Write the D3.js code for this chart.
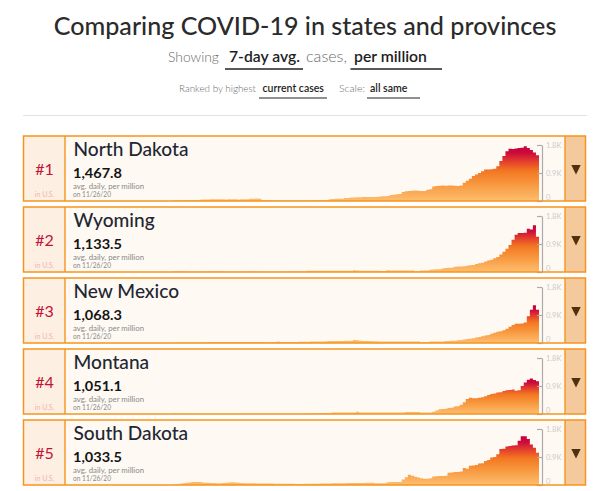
<!DOCTYPE html>
<html>
<head>
<meta charset="utf-8">
<script src="https://cdn.jsdelivr.net/npm/d3@7"></script>
<style>
  body { margin: 0; background: #fff; }
  svg { display: block; font-family: Lato, "Noto Sans", sans-serif; }
</style>
</head>
<body>
<svg id="chart" width="616" height="491"></svg>
<script>
// Top five by current 7-day avg. cases per million (11/26/20)
const states = ["North Dakota", "Wyoming", "New Mexico", "Montana", "South Dakota"];
const ranks = ["#1", "#2", "#3", "#4", "#5"];
const currentValues = [1467.8, 1133.5, 1068.3, 1051.1, 1033.5];
const asOf = "on 11/26/20";
const yTicks = [0, 900, 1800];

// one bar per two days, last bar on 2020-11-26
const lastDay = "2020-11-26";
const stepDays = 2;

const northDakota = [20,20,22,22,25,25,25,28,30,
  45,50,52,55,55,58,55,55,52,55,58,55,52,55,55,58,
  70,75,78,70,
  35,30,28,25,22,20,20,18,18,20,20,18,18,20,20,22,22,25,25,28,30,35,
  60,65,70,72,70,
  95,100,110,115,120,120,125,125,128,130,130,135,
  150,155,160, 190,200,215,225,
  290,310,320,330,335,330,325,320, 360,375,
  470,480,490,495,490,500,495,490,485,500,
  590,650,715,800,850,900,960,1015,1015,1020,1040,1120,1285,1445,1600,
  1680,1670,1690,1700,1710,1760,1700,1640,1560,1467.8];

const wyoming = [15,18,18,15,15, 5,5,5,5,5, 15,15,18,18,15,15,15, 5,5,5,5,5,8,
  15,15,15,15, 5,5,15, 5,5,5,5,5,8, 15,15,15,15,15,15,15,15,
  40,40,40,40,40,40,40, 38,38,38,38,38,38,38,40, 55,45,
  40,40,40,40,40,40,38, 30,30, 55,50,45,45,45,45,45,45,45, 25,30, 50,50,50,
  70,80,85,90, 110,130,135,140, 170,175,180,185, 200,215,225, 260,280,300,
  340,370,390, 440,480,
  560,650,750,870,1040,1200,1250,1250,1260,1390,1370,1500,1133.5];

const newMexico = [5, 15,15,15,15,18,18,18,18,18,18,
  30,32,32,32,32,32,32,32,32,32,32,32,32,32,32,32,32,32,32,
  28,28,30,30, 45, 32,32,32,32,32, 35,38,40,40,40, 50,50,50,50,52,
  60,62,62,65,65,68,70,70,70, 95,90, 70,65,65,65,60,60,
  50,50,50,50,50,50,50,50,50,50,50,50,50,45, 25,25,30,
  45,45,48,50,50, 65,65,70,75, 90,100,110, 130,140,150, 180,190,
  220,240,260, 300,330, 360,380,
  410,460,520,580,620,620,630,660,860,1070,1210,1068.3];

const montana = [15, 8,6,5,4,3,3,2,2,2,2,
  2,2,2,2,2,3,3,3,3,3,4,4,5,5,6,8,10,10,12,12,12,12,12,12,12,12,12,12,12,12,12,12,
  20,20,20,22,22,22,22, 30,32, 50,52,52,52,52,52,52,52, 70,
  52,52,52,52,52,52,52,52,52,52,52,52,52,52,52,
  68,68,68,68,68, 50,50,50,52, 70, 110, 150,160,165, 190,200, 240,250,
  300,380,480,520,510,505,520,540,570,610,640,660,690,700,740,760,770,790,
  750,760,900,1010,1100,1145,1090,1051.1];

const southDakota = [15,25,40,55,70,80, 95,100,95,85,75,
  70,65,62,60,60,65,75,80,85,80,
  70,65,60,58,55,55,52,50,48,48,45,45,42,42,40,
  40,38,38,38,36,36,36,38,38,40,42,42,45,48,50,52,55,55,58,60,
  60,62,62,65,65,68,68,70,70,72,60,55, 55,60, 90,95,95,100,100,
  180,250,330,300,265,240,220,200,200,220,270,280,290,290,300,
  390,400,420,420,430,550,520,620,630,640,690,700,770,800,880,
  900,990,1160,1165,1240,1250,1270,1280,1420,1570,1570,1480,1300,1200,1033.5];

const seriesList = [northDakota, wyoming, newMexico, montana, southDakota];

const svg = d3.select("#chart");
const orange = "#f7941d";

function fitWidth(sel, target) {
  const w = sel.node().getComputedTextLength();
  const fs = parseFloat(sel.attr("font-size"));
  sel.attr("font-size", fs * target / w);
  return fs * target / w;
}

// ---- header ----
const title = svg.append("text")
  .attr("x", 305).attr("y", 35)
  .attr("text-anchor", "middle")
  .attr("font-size", 25).attr("font-weight", 500)
  .attr("fill", "#2b2b2b")
  .text("Comparing COVID-19 in states and provinces");
fitWidth(title, 503);

function headText(x, y, size, txt, dark) {
  return svg.append("text").attr("x", x).attr("y", y)
    .attr("font-size", size)
    .attr("font-weight", dark ? 600 : 300)
    .attr("fill", dark ? "#1e1e1e" : "#6a6a6a")
    .text(txt);
}
function underline(x1, x2, y, w) {
  svg.append("line").attr("x1", x1).attr("x2", x2).attr("y1", y).attr("y2", y)
    .attr("stroke", "#222").attr("stroke-width", w);
}

fitWidth(headText(168, 62, 14.5, "Showing", false), 51);
fitWidth(headText(229, 62, 14.5, "7-day avg.", true), 71);
fitWidth(headText(306, 62, 14.5, "cases,", false), 41);
fitWidth(headText(354, 62, 14.5, "per million", true), 73);
underline(225, 303, 69, 1.5);
underline(350.5, 442, 69, 1.5);

fitWidth(headText(179, 92, 9.5, "Ranked by highest", false), 77);
fitWidth(headText(262.5, 92, 9.5, "current cases", true), 61.5);
fitWidth(headText(339, 92, 9.5, "Scale:", false), 26);
fitWidth(headText(370, 92, 9.5, "all same", true), 37.5);
underline(259, 327, 98, 1);
underline(367, 420, 98, 1);

svg.append("line").attr("x1", 23).attr("x2", 587).attr("y1", 115.5).attr("y2", 115.5)
  .attr("stroke", "#e2e2e2").attr("stroke-width", 1);

// ---- scales shared by every card ("all same") ----
const parseDay = d3.timeParse("%Y-%m-%d");
const endDay = parseDay(lastDay);
const nBars = northDakota.length;
const x = d3.scaleTime()
  .domain([d3.timeDay.offset(endDay, -stepDays * (nBars - 1)), d3.timeDay.offset(endDay, stepDays)])
  .range([173, 539]);
const y = d3.scaleLinear().domain([0, 1800]).range([65, 9]);

const area = d3.area()
  .curve(d3.curveStepAfter)
  .x(d => x(d.date))
  .y0(y(0))
  .y1(d => y(d.value));

const yAxis = d3.axisRight(y)
  .tickValues(yTicks)
  .tickSizeInner(-5)
  .tickSizeOuter(0)
  .tickPadding(4)
  .tickFormat(d => d === 0 ? "0" : (d / 1000).toFixed(1) + "K");

const defs = svg.append("defs");
const gradStops = [[0, "#c6003c"], [0.12, "#cc0a3a"], [0.3, "#e6462b"], [0.45, "#f37722"], [0.7, "#f8993f"], [1, "#fdbe70"]];

let nameSize = 17;

seriesList.forEach((vals, i) => {
  const top = 136 + 71 * i;
  const g = svg.append("g").attr("transform", "translate(0," + top + ")");

  const pts = vals.map((v, j) => ({ date: d3.timeDay.offset(endDay, -stepDays * (vals.length - 1 - j)), value: v }));
  pts.push({ date: d3.timeDay.offset(endDay, stepDays), value: vals[vals.length - 1] });

  const grad = defs.append("linearGradient")
    .attr("id", "grad" + i)
    .attr("gradientUnits", "userSpaceOnUse")
    .attr("x1", 0).attr("x2", 0)
    .attr("y1", y(d3.max(vals))).attr("y2", y(0));
  grad.selectAll("stop").data(gradStops).join("stop")
    .attr("offset", d => d[0]).attr("stop-color", d => d[1]);

  // panels
  g.append("rect").attr("x", 23.5).attr("y", 0).attr("width", 562).attr("height", 65).attr("fill", "#fef9f3");
  g.append("rect").attr("x", 23.5).attr("y", 0).attr("width", 41.5).attr("height", 65).attr("fill", "#fdefe2");
  g.append("rect").attr("x", 565).attr("y", 0).attr("width", 20.5).attr("height", 65).attr("fill", "#f4ca9d");

  // bars
  g.append("path").datum(pts).attr("d", area).attr("fill", "url(#grad" + i + ")");

  // axis
  const ax = g.append("g").attr("transform", "translate(542,0)").call(yAxis);
  ax.select(".domain").attr("stroke", "#ababab").attr("stroke-width", 1.2);
  ax.selectAll(".tick line").attr("stroke", "#ababab").attr("stroke-width", 1.2);
  ax.selectAll(".tick text").attr("fill", "#cbcbcb").attr("font-size", 7.5)
    .attr("font-family", "Lato, sans-serif")
    .attr("y", d => d === 0 ? -4 : 0);

  // separators and border
  g.append("line").attr("x1", 65).attr("x2", 65).attr("y1", 0).attr("y2", 65).attr("stroke", orange).attr("stroke-width", 1.4);
  g.append("line").attr("x1", 565).attr("x2", 565).attr("y1", 0).attr("y2", 65).attr("stroke", orange).attr("stroke-width", 1.4);
  g.append("rect").attr("x", 23.5).attr("y", 0).attr("width", 562).attr("height", 65)
    .attr("fill", "none").attr("stroke", orange).attr("stroke-width", 1.5);

  // arrow
  g.append("path").attr("d", "M571.3,29L580.7,29L576,38.5Z").attr("fill", "#51310c");

  // rank
  g.append("text").attr("x", 44.5).attr("y", 39).attr("text-anchor", "middle")
    .attr("font-size", 16).attr("font-weight", 400).attr("fill", "#c2123a").text(ranks[i]);
  g.append("text").attr("x", 44.5).attr("y", 61).attr("text-anchor", "middle")
    .attr("font-size", 7).attr("fill", "#f2b3b3").text("in U.S.");

  // labels
  const name = g.append("text").attr("x", 73.5).attr("y", 19.5)
    .attr("font-size", nameSize).attr("font-weight", 500).attr("fill", "#1f2733").text(states[i]);
  if (i === 0) nameSize = fitWidth(name, 115);

  const label = d3.format(",.1f")(currentValues[i]);
  g.append("text").attr("x", 73).attr("y", 42.2)
    .attr("font-size", 14).attr("font-weight", 700).attr("fill", "#141414")
    .attr("textLength", 49 * label.length / 7)
    .attr("lengthAdjust", "spacingAndGlyphs")
    .text(label);

  g.append("text").attr("x", 73).attr("y", 52.6)
    .attr("font-size", 6.7).attr("fill", "#8a8a8a")
    .attr("textLength", 71).attr("lengthAdjust", "spacingAndGlyphs")
    .text("avg. daily, per million");
  g.append("text").attr("x", 73).attr("y", 61)
    .attr("font-size", 6.7).attr("fill", "#8a8a8a")
    .attr("textLength", 38).attr("lengthAdjust", "spacingAndGlyphs")
    .text(asOf);
});
</script>
</body>
</html>
